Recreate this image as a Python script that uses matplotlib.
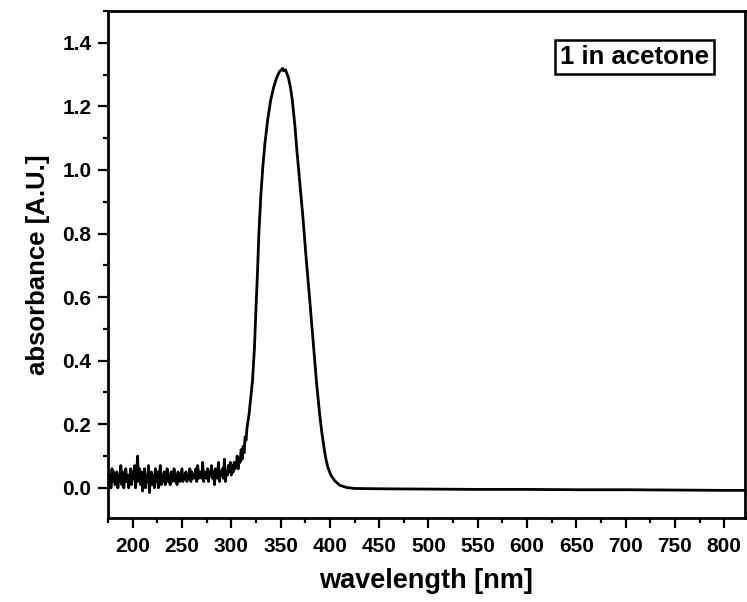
import matplotlib
matplotlib.use("Agg")
import matplotlib.pyplot as plt
import numpy as np
from matplotlib.ticker import MultipleLocator

plt.rcParams['font.family'] = ['Liberation Sans', 'DejaVu Sans']
plt.rcParams['font.weight'] = 'bold'

# noisy baseline, 1 nm steps from 175 to 304 nm
noise_start = 175
noise_vals = [
    0.05, 0.01, 0.04, 0.00, 0.06, 0.02, 0.05, 0.01, 0.03, 0.05,
    0.00, 0.04, 0.02, 0.07, 0.01, 0.05, 0.00, 0.03, 0.06, 0.02,
    0.04, 0.00, 0.03, 0.06, 0.01, 0.05, 0.03, 0.07, 0.00, 0.04,
    0.10, 0.02, 0.06, 0.01, 0.05, -0.01, 0.03, 0.06, 0.00, 0.04,
    0.02, 0.07, -0.015, 0.03, 0.05, 0.01, 0.04, 0.00, 0.06, 0.02,
    0.05, 0.00, 0.03, 0.07, 0.01, 0.04, 0.02, 0.05, 0.01, 0.03,
    0.06, 0.02, 0.04, 0.01, 0.05, 0.02, 0.03, 0.06, 0.02, 0.04,
    0.01, 0.05, 0.03, 0.02, 0.04, 0.06, 0.02, 0.04, 0.03, 0.05,
    0.02, 0.04, 0.03, 0.06, 0.02, 0.05, 0.03, 0.04, 0.03, 0.06,
    0.02, 0.07, 0.03, 0.05, 0.04, 0.03, 0.08, 0.02, 0.05, 0.04,
    0.03, 0.06, 0.02, 0.05, 0.04, 0.07, 0.03, 0.05, 0.01, 0.06,
    0.04, 0.03, 0.08, 0.02, 0.05, 0.04, 0.06, 0.03, 0.09, 0.02,
    0.05, 0.04, 0.07, 0.05, 0.08, 0.04, 0.07, 0.05, 0.08, 0.06,
]
noise_x = list(range(noise_start, noise_start + len(noise_vals)))

# absorption band and flat tail
band_x = [305, 306, 307, 308, 309, 310, 311, 312, 313, 314, 315, 316, 318, 320,
          321.5, 323.5, 325, 326.5, 328, 330, 332, 334, 337, 340, 343, 346,
          349, 351, 352, 353, 355, 358, 360, 362, 364.5, 366.6, 369.5, 372.7,
          376, 379.5, 383.6, 386.5, 389.7, 392, 394, 396, 398, 401, 405, 410,
          417, 425, 450, 500, 550, 600, 650, 700, 750, 800, 821]
band_vals = [0.07, 0.10, 0.06, 0.09, 0.08, 0.12, 0.09, 0.13, 0.11, 0.16, 0.15, 0.19,
             0.23, 0.29, 0.336, 0.44, 0.56, 0.67, 0.80, 0.92, 1.01, 1.08, 1.16,
             1.22, 1.26, 1.29, 1.31, 1.315, 1.32, 1.312, 1.315, 1.29, 1.26, 1.217,
             1.14, 1.06, 0.96, 0.85, 0.72, 0.594, 0.44, 0.33, 0.23, 0.17, 0.127,
             0.09, 0.064, 0.04, 0.022, 0.008, 0.001, -0.002, -0.003, -0.004,
             -0.005, -0.005, -0.006, -0.006, -0.007, -0.008, -0.008]

wl = np.array(noise_x + band_x)
absb = np.array(noise_vals + band_vals)

fig = plt.figure(figsize=(7.47, 6.02), dpi=100)
ax = fig.add_axes([0.1446, 0.1395, 0.8527, 0.8422])
ax.plot(wl, absb, color='black', lw=2.0)

ax.set_xlim(175, 821)
ax.set_ylim(-0.095, 1.5)
ax.xaxis.set_major_locator(MultipleLocator(50))
ax.xaxis.set_minor_locator(MultipleLocator(25))
ax.yaxis.set_major_locator(MultipleLocator(0.2))
ax.yaxis.set_minor_locator(MultipleLocator(0.1))
ax.yaxis.set_major_formatter(plt.FuncFormatter(lambda v, p: f"{v:.1f}"))

for s in ax.spines.values():
    s.set_linewidth(2)
ax.tick_params(which='major', direction='out', length=7, width=1.6, labelsize=15)
ax.tick_params(which='minor', direction='out', length=3.6, width=1.6)
ax.tick_params(axis='x', pad=7)
ax.tick_params(axis='y', pad=5)

ax.set_xlabel("wavelength [nm]", fontsize=19.5, fontweight='bold', labelpad=8)
ax.set_ylabel("absorbance [A.U.]", fontsize=18.5, fontweight='bold', labelpad=9)

ax.text(0.8265, 0.909, "1 in acetone", transform=ax.transAxes, ha='center', va='center',
        fontsize=18.5, fontweight='bold',
        bbox=dict(boxstyle='square,pad=0.2', fc='white', ec='black', lw=1.8))

fig.savefig("out.png", dpi=100)
